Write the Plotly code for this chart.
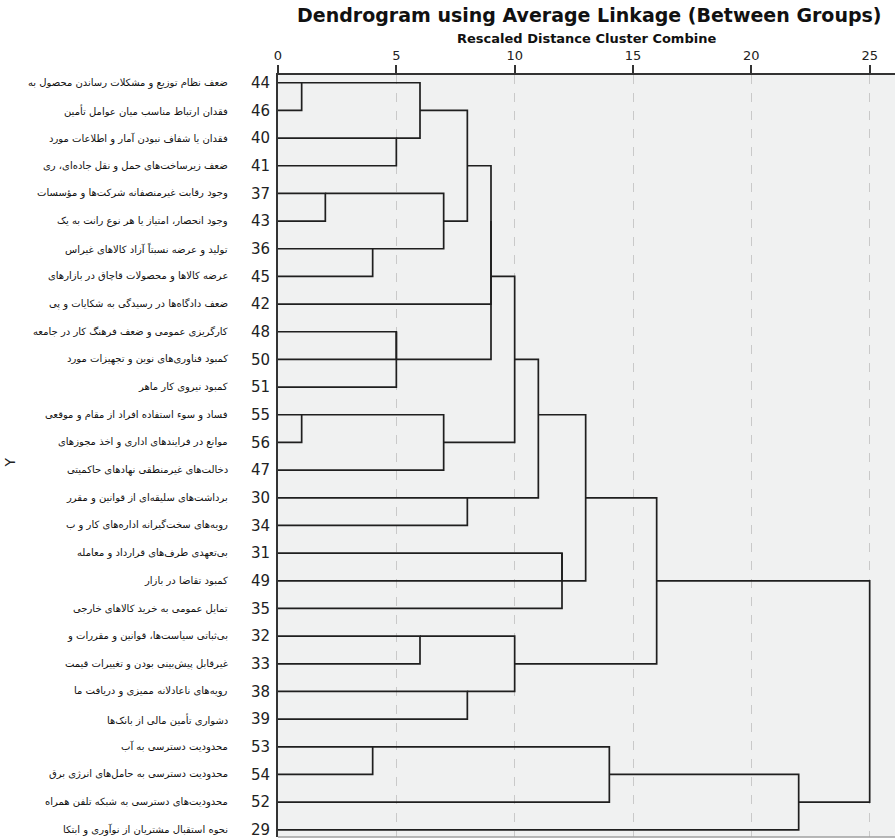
import plotly.graph_objects as go

# ---- data ----
case_ids = [44, 46, 40, 41, 37, 43, 36, 45, 42, 48, 50, 51, 55, 56, 47,
            30, 34, 31, 49, 35, 32, 33, 38, 39, 53, 54, 52, 29]

case_labels = [
    "ضعف نظام توزیع و مشکلات رساندن محصول به",
    "فقدان ارتباط مناسب میان عوامل تأمین",
    "فقدان یا شفاف نبودن آمار و اطلاعات مورد",
    "ضعف زیرساخت‌های حمل و نقل جاده‌ای، ری",
    "وجود رقابت غیرمنصفانه شرکت‌ها و مؤسسات",
    "وجود انحصار، امتیاز یا هر نوع رانت به یک",
    "تولید و عرضه نسبتاً آزاد کالاهای غیراس",
    "عرضه کالاها و محصولات قاچاق در بازارهای",
    "ضعف دادگاه‌ها در رسیدگی به شکایات و پی",
    "کارگریزی عمومی و ضعف فرهنگ کار در جامعه",
    "کمبود فناوری‌های نوین و تجهیزات مورد",
    "کمبود نیروی کار ماهر",
    "فساد و سوء استفاده افراد از مقام و موقعی",
    "موانع در فرایندهای اداری و اخذ مجوزهای",
    "دخالت‌های غیرمنطقی نهادهای حاکمیتی",
    "برداشت‌های سلیقه‌ای از قوانین و مقرر",
    "رویه‌های سخت‌گیرانه اداره‌های کار و ب",
    "بی‌تعهدی طرف‌های قرارداد و معامله",
    "کمبود تقاضا در بازار",
    "تمایل عمومی به خرید کالاهای خارجی",
    "بی‌ثباتی سیاست‌ها، قوانین و مقررات و",
    "غیرقابل پیش‌بینی بودن و تغییرات قیمت",
    "رویه‌های ناعادلانه ممیزی و دریافت ما",
    "دشواری تأمین مالی از بانک‌ها",
    "محدودیت دسترسی به آب",
    "محدودیت دسترسی به حامل‌های انرژی برق",
    "محدودیت‌های دسترسی به شبکه تلفن همراه",
    "نحوه استقبال مشتریان از نوآوری و ابتکا",
]

# agglomeration steps: s1..s27 ; ints are case ids, "sN" refers to step N
merge_left = [44, 40, "s1", 37, 36, "s4", "s3", 48, "s8", "s7", "s10", 55, "s12",
              "s11", 30, "s14", 31, "s17", "s16", 32, 38, "s20", "s19", 53, "s24",
              "s25", "s23"]
merge_right = [46, 41, "s2", 43, 45, "s5", "s6", 50, 51, 42, "s9", 56, 47,
               "s13", 34, "s15", 49, 35, "s18", 33, 39, "s21", "s22", 54, 52,
               29, "s26"]
merge_dist = [1, 5, 6, 2, 4, 7, 8, 5, 5, 9, 9, 1, 7, 10, 8, 11, 12, 12, 13,
              6, 8, 10, 16, 4, 14, 22, 25]

x_ticks = [0, 5, 10, 15, 20, 25]

# ---- build dendrogram segments ----
pos = {cid: (0.0, float(i)) for i, cid in enumerate(case_ids)}
xs, ys = [], []
for k, (a, b, d) in enumerate(zip(merge_left, merge_right, merge_dist), start=1):
    xa, ya = pos[a]
    xb, yb = pos[b]
    xs += [xa, d, d, xb, None]
    ys += [ya, ya, yb, yb, None]
    pos["s%d" % k] = (float(d), float((ya + yb) // 2))

fig = go.Figure()
fig.add_trace(go.Scatter(x=xs, y=ys, mode="lines",
                         line=dict(color="#1f1f1f", width=1.7),
                         hoverinfo="skip", showlegend=False))

LAB = "DejaVu Sans"
for i, txt in enumerate(case_labels):
    fig.add_annotation(x=0, y=i, xref="x", yref="y", text=txt, showarrow=False,
                       xanchor="right", yanchor="middle", xshift=-48,
                       font=dict(family=LAB, size=10, color="#111"))

fig.add_annotation(xref="paper", yref="paper", x=0.505, y=1.0786,
                   text="<b>Dendrogram using Average Linkage (Between Groups)</b>",
                   showarrow=False, xanchor="center", yanchor="middle",
                   font=dict(family="DejaVu Sans", size=19, color="#111"))
fig.add_annotation(xref="paper", yref="paper", x=0.5, y=1.0485,
                   text="<b>Rescaled Distance Cluster Combine</b>",
                   showarrow=False, xanchor="center", yanchor="middle",
                   font=dict(family="DejaVu Sans", size=13, color="#111"))
fig.add_annotation(xref="paper", yref="paper", x=(10 - 278) / 617, y=0.4915, text="Y",
                   showarrow=False, textangle=-90, xanchor="center", yanchor="middle",
                   font=dict(family="DejaVu Sans", size=14, color="#222"))

# bottom border
fig.add_shape(type="line", xref="paper", yref="paper", x0=0, x1=1, y0=0, y1=0,
              line=dict(color="#a0a0a0", width=1.5))

fig.update_layout(
    width=895, height=840,
    margin=dict(l=278, r=0, t=75, b=3),
    paper_bgcolor="white", plot_bgcolor="#F0F1F1",
    xaxis=dict(side="top", range=[0, 26.07], tickvals=x_ticks,
               ticktext=[str(t) for t in x_ticks],
               showgrid=True, gridcolor="#c9c9c9", griddash="dash", gridwidth=1,
               zeroline=False, showline=True, linecolor="#333", linewidth=2,
               ticks="outside", ticklen=8, tickcolor="#333", tickwidth=1.5,
               tickfont=dict(family="DejaVu Sans", size=13, color="#222"),
               fixedrange=True),
    yaxis=dict(range=[27.26, -0.28], tickvals=list(range(len(case_ids))),
               ticktext=[str(c) for c in case_ids],
               showgrid=False, zeroline=False, showline=True, linecolor="#333",
               linewidth=2, ticks="outside", ticklen=3, tickcolor="rgba(0,0,0,0)",
               tickfont=dict(family="DejaVu Sans", size=15, color="#222"),
               fixedrange=True),
)

fig.write_html("out.html", config={"displayModeBar": False},
               post_script="document.body.style.margin='0';document.body.style.overflow='hidden';")
